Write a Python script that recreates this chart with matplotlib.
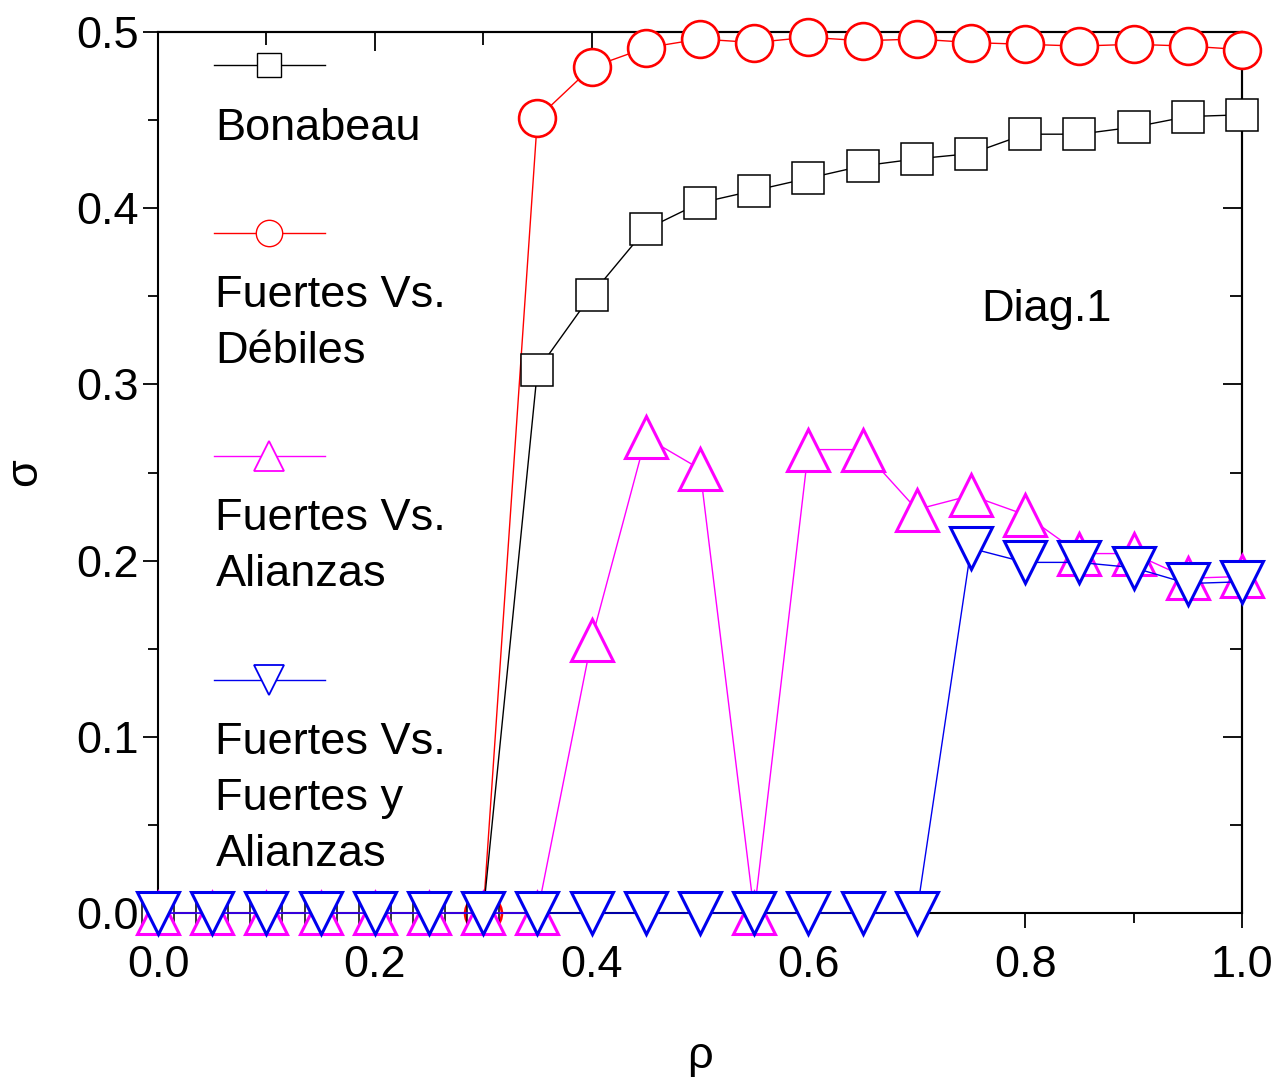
import numpy as np
import matplotlib.pyplot as plt
from matplotlib.ticker import MultipleLocator

plt.rcParams['font.family'] = ['Liberation Sans', 'DejaVu Sans']

# densidad rho
rho = [0.0, 0.05, 0.1, 0.15, 0.2, 0.25, 0.3, 0.35, 0.4, 0.45, 0.5,
       0.55, 0.6, 0.65, 0.7, 0.75, 0.8, 0.85, 0.9, 0.95, 1.0]

bonabeau = [0, 0, 0, 0, 0, 0, 0, 0.308, 0.351, 0.388, 0.403,
            0.410, 0.417, 0.424, 0.428, 0.431, 0.442, 0.442, 0.446, 0.452, 0.453]
# the red circles below 0.3 are hidden in the original figure
fuertes_debiles = [np.nan, np.nan, np.nan, np.nan, np.nan, np.nan, 0, 0.451, 0.480, 0.491, 0.496,
                   0.494, 0.497, 0.495, 0.496, 0.494, 0.493, 0.492, 0.493, 0.492, 0.490]
fuertes_alianzas = [0, 0, 0, 0, 0, 0, 0, 0, 0.155, 0.270, 0.252,
                    0, 0.263, 0.263, 0.229, 0.237, 0.226, 0.204, 0.204, 0.190, 0.191]
fuertes_fya = [0, 0, 0, 0, 0, 0, 0, 0, 0, 0, 0,
               0, 0, 0, 0, 0.207, 0.199, 0.199, 0.196, 0.187, 0.188]

series = [
    (fuertes_debiles, 'red', 'o', 26.5, 1.9, ['Fuertes Vs.', 'Débiles']),
    (bonabeau, 'black', 's', 23.5, 1.1, ['Bonabeau']),
    (fuertes_alianzas, '#ff00ff', '^', 30, 2.2, ['Fuertes Vs.', 'Alianzas']),
    (fuertes_fya, '#0000ee', 'v', 30, 2.2, ['Fuertes Vs.', 'Fuertes y', 'Alianzas']),
]

FS = 32.5

fig = plt.figure(figsize=(12.87, 10.84), dpi=100)
ax = fig.add_axes([0.1228, 0.1577, 0.965 - 0.1228, 0.9705 - 0.1577])

for z, (vals, col, mk, ms, mew, lab) in enumerate(series):
    ax.plot(rho, vals, color=col, lw=1.0, marker=mk, ms=ms, mew=mew,
            mfc='white', mec=col, clip_on=False, zorder=3 + z)

ax.set_xlim(0, 1)
ax.set_ylim(0, 0.5)
ax.xaxis.set_major_locator(MultipleLocator(0.2))
ax.xaxis.set_minor_locator(MultipleLocator(0.1))
ax.yaxis.set_major_locator(MultipleLocator(0.1))
ax.yaxis.set_minor_locator(MultipleLocator(0.05))
ax.xaxis.set_major_formatter(plt.FormatStrFormatter('%.1f'))
ax.yaxis.set_major_formatter(plt.FormatStrFormatter('%.1f'))

for s in ax.spines.values():
    s.set_linewidth(1.5)
ax.tick_params(axis='both', which='major', length=11, width=1.3, labelsize=FS, pad=3)
ax.tick_params(axis='both', which='minor', length=7, width=1.3)
ax.tick_params(axis='both', which='both', direction='out')
ax.tick_params(axis='x', which='major', pad=12)

# top / right ticks point inward
top = ax.secondary_xaxis('top')
top.xaxis.set_major_locator(MultipleLocator(0.2))
top.xaxis.set_minor_locator(MultipleLocator(0.1))
top.tick_params(which='major', direction='in', length=14, width=1.3, labeltop=False)
top.tick_params(which='minor', direction='in', length=9, width=1.3)
top.spines['top'].set_linewidth(1.5)
right = ax.secondary_yaxis('right')
right.yaxis.set_major_locator(MultipleLocator(0.1))
right.yaxis.set_minor_locator(MultipleLocator(0.05))
right.tick_params(which='major', direction='in', length=14, width=1.3, labelright=False)
right.tick_params(which='minor', direction='in', length=9, width=1.3)
right.spines['right'].set_linewidth(1.5)

ax.set_xlabel('ρ', fontsize=FS, labelpad=36)
ax.set_ylabel('σ', fontsize=FS, labelpad=22)

ax.text(0.82, 0.685, 'Diag.1', transform=ax.transAxes, fontsize=FS,
        ha='center', va='center')

# manual legend: handle with the label underneath
leg_order = [1, 0, 2, 3]
handle_y = [0.962, 0.772, 0.519, 0.265]
leg_ms = [17, 19, 21, 21]
for i, (k, yh) in enumerate(zip(leg_order, handle_y)):
    vals, col, mk, ms, mew, lab = series[k]
    ax.plot([0.052, 0.154], [yh, yh], transform=ax.transAxes, color=col, lw=1.0,
            clip_on=False, zorder=10)
    ax.plot([0.102], [yh], transform=ax.transAxes, marker=mk, ms=leg_ms[i],
            mfc='white', mec=col, mew=1.0 if k < 2 else 1.3, clip_on=False, zorder=11)
    for j, line in enumerate(lab):
        ax.text(0.053, yh - 0.071 - j * 0.064, line, transform=ax.transAxes,
                fontsize=FS, ha='left', va='center', zorder=12)

fig.savefig('out.png', dpi=100)
